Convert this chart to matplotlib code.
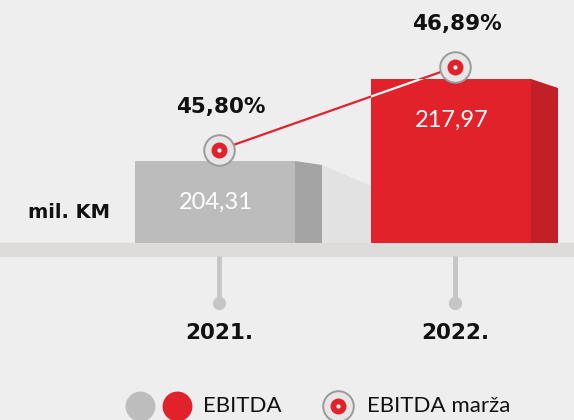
import numpy as np
import matplotlib
matplotlib.use("Agg")
import matplotlib.pyplot as plt
from matplotlib.patches import Polygon

# ── Data ─────────────────────────────────────────────────────────────────────
years      = ["2021.", "2022."]
ebitda     = [204.31, 217.97]
margin     = [45.80, 46.89]
ebitda_lbl = ["204,31", "217,97"]
margin_lbl = ["45,80%", "46,89%"]

# ── Colours ──────────────────────────────────────────────────────────────────
C_BG      = "#eeeeee"
C_GRAY    = "#bbbcbb"
C_GRAY_SD = "#a3a4a3"
C_RED     = "#e1222a"
C_RED_SD  = "#c21f26"
C_SHELF   = "#dddcda"
C_STEM    = "#c6c6c6"
C_SHADOW  = "#e2e2e2"

# ── Scales (pixel geometry of the reference) ─────────────────────────────────
W, H   = 574, 420
PX_X   = 236.0            # px per category step
X0_PX  = 219.0            # px of category 0
BASE   = 190.65           # value at the shelf line
PX_V   = 6.003            # px per mil. KM
BASE_PX = 243.0
PX_M   = 76.15            # px per margin %
M_REF, M_REF_PX = 45.80, 150.0

BAR_W  = 160 / PX_X
SHIFT  = -4 / PX_X
SIDE_W = 27 / PX_X
SIDE_DROP = [4 / PX_V, 9 / PX_V]

fig = plt.figure(figsize=(W / 100, H / 100), dpi=100)
fig.patch.set_facecolor(C_BG)
ax = fig.add_axes([0, 0, 1, 1])
ax.set_facecolor(C_BG)
ax.set_xlim(-X0_PX / PX_X, (W - X0_PX) / PX_X)
ax.set_ylim(BASE - (H - BASE_PX) / PX_V, BASE + BASE_PX / PX_V)
ax.axis("off")

x = np.arange(len(years))
shelf_h = 13 / PX_V

# shelf
ax.axhspan(BASE - shelf_h, BASE, color=C_SHELF, zorder=1)

# shadow between bars
gx = x[0] + SHIFT + BAR_W / 2 + SIDE_W
ax.add_patch(Polygon([[gx, ebitda[0] - SIDE_DROP[0]],
                      [x[1] + SHIFT - BAR_W / 2, ebitda[0] - 25 / PX_V],
                      [x[1] + SHIFT - BAR_W / 2, BASE],
                      [gx, BASE]],
                     closed=True, fc=C_SHADOW, ec="none", zorder=1.5))

# bars + side faces
faces = [C_GRAY, C_RED]
sides = [C_GRAY_SD, C_RED_SD]
bars = ax.bar(x + SHIFT, np.array(ebitda) - BASE, bottom=BASE, width=BAR_W,
              color=faces, zorder=2)
for i, v in enumerate(ebitda):
    xr = x[i] + SHIFT + BAR_W / 2
    ax.add_patch(Polygon([[xr, v], [xr + SIDE_W, v - SIDE_DROP[i]],
                          [xr + SIDE_W, BASE], [xr, BASE]],
                         closed=True, fc=sides[i], ec="none", zorder=2))
    ax.text(x[i] - 3 / PX_X, v - 41 / PX_V, ebitda_lbl[i], color="white",
            ha="center", va="center", fontsize=17, family="Lato", zorder=6)

# stems, dots and year labels
for i in x:
    ax.plot([i, i], [BASE - shelf_h, BASE - 57 / PX_V], color=C_STEM,
            lw=3.5, solid_capstyle="butt", zorder=1)
    ax.plot(i, BASE - 60 / PX_V, "o", ms=9.5, color=C_STEM, mew=0, zorder=1)
    ax.text(i, BASE - 90 / PX_V, years[i], ha="center", va="center",
            fontsize=15.5, fontweight="bold", color="#111111")

ax.text(28 / W, 1 - 212 / H, "mil. KM", transform=ax.transAxes,
        ha="left", va="center", fontsize=14, fontweight="bold",
        color="#111111")

# margin line on its own scale
ax2 = ax.twinx()
ax2.set_ylim(M_REF - (H - M_REF_PX) / PX_M, M_REF + M_REF_PX / PX_M)
ax2.axis("off")
ax2.plot(x, margin, color=C_RED, lw=1.6, zorder=3)
wl, = ax2.plot(x, margin, color="white", lw=1.6, zorder=3)
wl.set_clip_path(bars[1])
ax2.plot(x, margin, "o", ms=22, mfc="#e6e6e6", mec="#9a9a9a", mew=1.4,
         zorder=4)
ax2.plot(x, margin, "o", ms=11.5, mfc=C_RED, mec="none", zorder=5)
ax2.plot(x, margin, "o", ms=3, mfc="white", mec="none", zorder=6)
for i, m in enumerate(margin):
    ax2.annotate(margin_lbl[i], (x[i], m), xytext=(1, 31),
                 textcoords="offset points", ha="center", va="center",
                 fontsize=15.5, fontweight="bold", color="#111111")

# legend (figure fraction; ax covers the whole figure)
ly = 1 - 406 / H
ax.plot(140 / W, ly, "o", ms=21.5, mfc="#bdbdbd", mec="none",
        transform=ax.transAxes, clip_on=False)
ax.plot(177 / W, ly, "o", ms=21.5, mfc=C_RED, mec="none",
        transform=ax.transAxes, clip_on=False)
ax.text(203 / W, ly, "EBITDA", transform=ax.transAxes, ha="left",
        va="center", fontsize=16, family="Lato", color="#111111")
ax.plot(338 / W, ly, "o", ms=22, mfc="#e6e6e6", mec="#9a9a9a", mew=1.4,
        transform=ax.transAxes, clip_on=False)
ax.plot(338 / W, ly, "o", ms=11.5, mfc=C_RED, mec="none",
        transform=ax.transAxes, clip_on=False)
ax.plot(338 / W, ly, "o", ms=3, mfc="white", mec="none",
        transform=ax.transAxes, clip_on=False)
ax.text(367 / W, ly, "EBITDA marža", transform=ax.transAxes, ha="left",
        va="center", fontsize=16, family="Lato", color="#111111")

fig.savefig("out.png", dpi=100, facecolor=C_BG)
